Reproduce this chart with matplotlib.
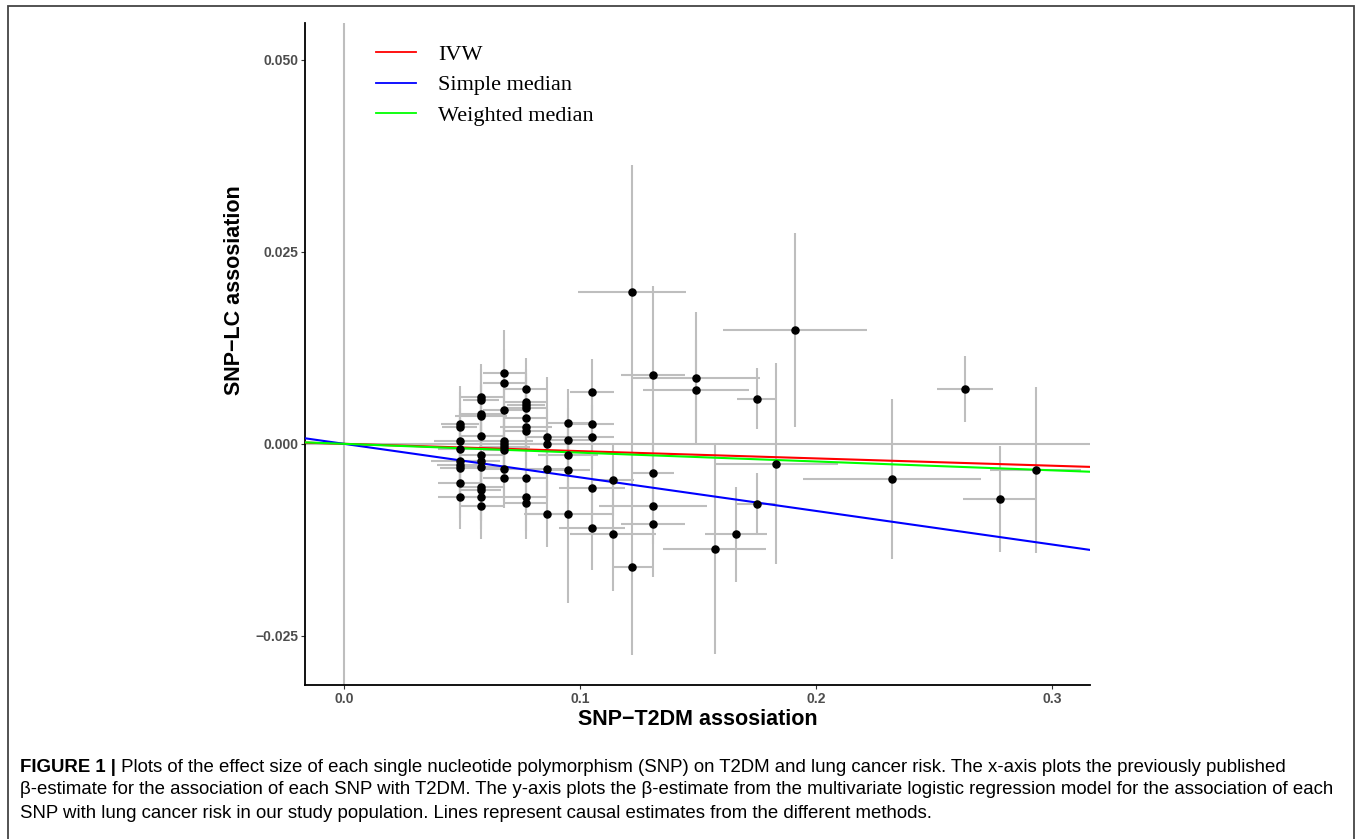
import matplotlib
matplotlib.use("Agg")
import matplotlib.pyplot as plt
from matplotlib.patches import Rectangle

# SNP-T2DM (bx) and SNP-LC (by) associations with their error bar half-widths
bx = [0.049, 0.049, 0.049, 0.049, 0.049, 0.049, 0.049, 0.049, 0.049,
      0.058, 0.058, 0.058, 0.058, 0.058, 0.058, 0.058, 0.058, 0.058, 0.058, 0.058, 0.058,
      0.068, 0.068, 0.068, 0.068, 0.068, 0.068, 0.068, 0.068, 0.068,
      0.077, 0.077, 0.077, 0.077, 0.077, 0.077, 0.077, 0.077, 0.077, 0.077,
      0.086, 0.086, 0.086, 0.086,
      0.095, 0.095, 0.095, 0.095, 0.095,
      0.105, 0.105, 0.105, 0.105, 0.105,
      0.114, 0.114, 0.122, 0.122,
      0.131, 0.131, 0.131, 0.131,
      0.149, 0.149, 0.157, 0.166, 0.175, 0.175, 0.183, 0.191,
      0.232, 0.263, 0.278, 0.293]
by = [0.0026, 0.0022, 0.0004, -0.0007, -0.0023, -0.0027, -0.0031, -0.0051, -0.0069,
      0.0061, 0.0057, 0.0039, 0.0036, 0.0010, -0.0014, -0.0023, -0.0030, -0.0056, -0.0060, -0.0069, -0.0081,
      0.0092, 0.0079, 0.0044, 0.0004, 0.0000, -0.0004, -0.0008, -0.0033, -0.0044,
      0.0072, 0.0055, 0.0051, 0.0047, 0.0033, 0.0022, 0.0017, -0.0044, -0.0069, -0.0077,
      0.0009, 0.0000, -0.0033, -0.0091,
      0.0027, 0.0005, -0.0014, -0.0034, -0.0092,
      0.0068, 0.0026, 0.0009, -0.0057, -0.0109,
      -0.0047, -0.0118, 0.0198, -0.0161,
      0.0089, -0.0038, -0.0081, -0.0104,
      0.0086, 0.0070, -0.0137, -0.0118, 0.0059, -0.0078, -0.0026, 0.0148,
      -0.0046, 0.0072, -0.0072, -0.0034]
bx_se = [0.0080, 0.0073, 0.0110, 0.0090, 0.0120, 0.0095, 0.0085, 0.0093, 0.0093,
         0.0093, 0.0075, 0.0093, 0.0110, 0.0093, 0.0093, 0.0080, 0.0100, 0.0093, 0.0085, 0.0093, 0.0093,
         0.0093, 0.0093, 0.0093, 0.0120, 0.0093, 0.0110, 0.0093, 0.0093, 0.0093,
         0.0093, 0.0093, 0.0080, 0.0093, 0.0093, 0.0110, 0.0093, 0.0093, 0.0093, 0.0093,
         0.0093, 0.0093, 0.0093, 0.0093,
         0.0089, 0.0089, 0.0127, 0.0093, 0.0186,
         0.0093, 0.0093, 0.0093, 0.0140, 0.0140,
         0.0089, 0.0182, 0.0229, 0.0085,
         0.0136, 0.0089, 0.0229, 0.0136,
         0.0271, 0.0225, 0.0220, 0.0131, 0.0085, 0.0085, 0.0263, 0.0305,
         0.0377, 0.0119, 0.0157, 0.0191]
# lower / upper half-widths of the SNP-LC bars
by_lo = [0.0049, 0.0045, 0.0042, 0.0040, 0.0044, 0.0041, 0.0043, 0.0045, 0.0042,
         0.0043, 0.0040, 0.0042, 0.0040, 0.0044, 0.0041, 0.0042, 0.0040, 0.0043, 0.0041, 0.0042, 0.0043,
         0.0056, 0.0045, 0.0042, 0.0040, 0.0043, 0.0041, 0.0040, 0.0042, 0.0039,
         0.0040, 0.0042, 0.0041, 0.0040, 0.0043, 0.0041, 0.0040, 0.0042, 0.0045, 0.0047,
         0.0078, 0.0045, 0.0042, 0.0043,
         0.0044, 0.0042, 0.0043, 0.0045, 0.0115,
         0.0043, 0.0045, 0.0042, 0.0045, 0.0055,
         0.0047, 0.0074, 0.0245, 0.0114,
         0.0116, 0.0040, 0.0050, 0.0069,
         0.0086, 0.0065, 0.0137, 0.0062, 0.0040, 0.0040, 0.0131, 0.0126,
         0.0104, 0.0043, 0.0069, 0.0108]
by_hi = [0.0049, 0.0045, 0.0042, 0.0040, 0.0044, 0.0041, 0.0043, 0.0045, 0.0042,
         0.0043, 0.0040, 0.0042, 0.0040, 0.0044, 0.0041, 0.0042, 0.0040, 0.0043, 0.0041, 0.0042, 0.0043,
         0.0056, 0.0045, 0.0042, 0.0040, 0.0043, 0.0041, 0.0040, 0.0042, 0.0039,
         0.0040, 0.0042, 0.0041, 0.0040, 0.0043, 0.0041, 0.0040, 0.0042, 0.0045, 0.0047,
         0.0078, 0.0045, 0.0042, 0.0043,
         0.0044, 0.0042, 0.0043, 0.0045, 0.0115,
         0.0043, 0.0045, 0.0042, 0.0045, 0.0055,
         0.0047, 0.0074, 0.0165, 0.0114,
         0.0116, 0.0040, 0.0050, 0.0069,
         0.0086, 0.0065, 0.0137, 0.0062, 0.0040, 0.0040, 0.0131, 0.0126,
         0.0104, 0.0043, 0.0069, 0.0108]

# causal estimates (slopes through the origin)
methods = ["IVW", "Simple median", "Weighted median"]
slopes = [-0.0095, -0.0437, -0.0115]
colors = ["#FF0000", "#0000FF", "#00FF00"]

caption_head = "FIGURE 1 |"
caption_lines = [
    " Plots of the effect size of each single nucleotide polymorphism (SNP) on T2DM and lung cancer risk. The x-axis plots the previously published",
    "\u03b2-estimate for the association of each SNP with T2DM. The y-axis plots the \u03b2-estimate from the multivariate logistic regression model for the association of each",
    "SNP with lung cancer risk in our study population. Lines represent causal estimates from the different methods.",
]

fig = plt.figure(figsize=(13.6, 8.39), dpi=100)
ax = fig.add_axes([0.2243, 0.1836, 0.5772, 0.789])

ax.axvline(0, color="#BEBEBE", lw=1.5, zorder=1)
ax.axhline(0, color="#BEBEBE", lw=1.5, zorder=1)

ax.errorbar(bx, by, xerr=bx_se, yerr=[by_lo, by_hi], fmt="none", ecolor="#BEBEBE",
            elinewidth=1.5, capsize=0, zorder=2)
ax.scatter(bx, by, s=26, color="black", zorder=4)

for m, s, c in zip(methods, slopes, colors):
    ax.axline((0, 0), slope=s, color=c, lw=1.5, label=m, zorder=3)

ax.set_xlim(-0.0165, 0.3161)
ax.set_ylim(-0.0314, 0.0548)
ax.set_xticks([0.0, 0.1, 0.2, 0.3])
ax.set_xticklabels(["0.0", "0.1", "0.2", "0.3"])
ax.set_yticks([-0.025, 0.0, 0.025, 0.05])
ax.set_yticklabels(["\u22120.025", "0.000", "0.025", "0.050"])
for lab in ax.get_xticklabels() + ax.get_yticklabels():
    lab.set_fontweight("bold")
    lab.set_fontfamily("Liberation Sans")
    lab.set_fontsize(10)
    lab.set_color("#4D4D4D")
ax.tick_params(length=3, width=0.8, color="#333333", pad=2)

for side in ["top", "right"]:
    ax.spines[side].set_visible(False)
for side in ["left", "bottom"]:
    ax.spines[side].set_linewidth(1.3)

ax.set_xlabel("SNP\u2212T2DM assosiation", fontsize=15.5, fontweight="bold",
              family="Liberation Sans", labelpad=2)
ax.set_ylabel("SNP\u2212LC assosiation", fontsize=15.5, fontweight="bold",
              family="Liberation Sans")
ax.yaxis.set_label_coords(-0.076, 0.597)

leg = ax.legend(loc="upper left", bbox_to_anchor=(0.065, 0.998), frameon=False,
                prop={"family": "Liberation Serif", "size": 16},
                handlelength=1.8, handletextpad=1.0, labelspacing=0.45)
for h in leg.get_lines():
    h.set_linewidth(1.3)

# frame around the figure and caption
fig.patches.append(Rectangle((8 / 1360, -0.02), 1346 / 1360, 1 - 6 / 839 + 0.02,
                             transform=fig.transFigure, fill=False,
                             edgecolor="#444444", lw=1.3))

r = fig.canvas.get_renderer()
head = fig.text(20 / 1360, 1 - 767 / 839, caption_head, fontsize=13.4, fontweight="bold",
                family="Liberation Sans", va="center")
bb = head.get_window_extent(renderer=r)
fig.text(bb.x1 / 1360, 1 - 767 / 839, caption_lines[0], fontsize=13.4,
         family="Liberation Sans", va="center")
for i, line in enumerate(caption_lines[1:]):
    fig.text(20 / 1360, 1 - (790 + 23 * i) / 839, line, fontsize=13.4,
             family="Liberation Sans", va="center")

fig.savefig("out.png", dpi=100)
